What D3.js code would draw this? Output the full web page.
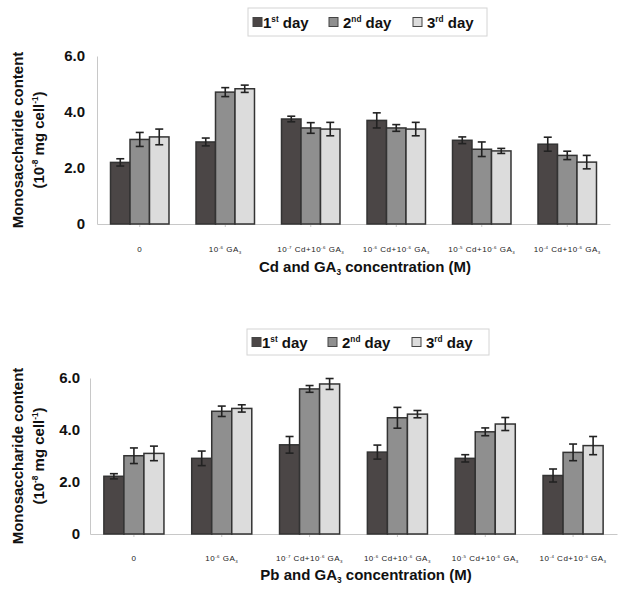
<!DOCTYPE html>
<html lang="en">
<head>
<meta charset="utf-8">
<title>Monosaccharide content</title>
<script src="https://cdnjs.cloudflare.com/ajax/libs/d3/7.8.5/d3.min.js"></script>
<style>
  body { margin: 0; background: #fff; }
  svg { font-family: "Liberation Sans", Arial, sans-serif; }
</style>
</head>
<body>
<div id="chart"></div>
<script>
// categories and legend entries (^{..} = superscript, _{..} = subscript)
const categories = ["0", "10^{-6} GA_{3}", "10^{-7} Cd+10^{-6} GA_{3}", "10^{-6} Cd+10^{-6} GA_{3}", "10^{-5} Cd+10^{-6} GA_{3}", "10^{-4} Cd+10^{-6} GA_{3}"];
const seriesNames = ["1^{st} day", "2^{nd} day", "3^{rd} day"];
const seriesColors = ["#4b4646", "#8f8f8f", "#dcdcdc"];

// Cd panel
const cdDay1 = [2.20, 2.93, 3.75, 3.70, 2.99, 2.85];
const cdDay2 = [3.02, 4.71, 3.43, 3.43, 2.67, 2.45];
const cdDay3 = [3.11, 4.83, 3.39, 3.39, 2.61, 2.21];
const cdErr1 = [0.13, 0.14, 0.10, 0.27, 0.12, 0.25];
const cdErr2 = [0.25, 0.16, 0.19, 0.12, 0.26, 0.15];
const cdErr3 = [0.28, 0.13, 0.24, 0.24, 0.09, 0.24];

// Pb panel
const pbDay1 = [2.22, 2.91, 3.43, 3.15, 2.91, 2.25];
const pbDay2 = [3.01, 4.72, 5.58, 4.47, 3.93, 3.14];
const pbDay3 = [3.10, 4.83, 5.77, 4.61, 4.23, 3.40];
const pbErr1 = [0.10, 0.28, 0.32, 0.27, 0.14, 0.25];
const pbErr2 = [0.30, 0.20, 0.13, 0.40, 0.15, 0.32];
const pbErr3 = [0.28, 0.14, 0.21, 0.14, 0.25, 0.35];

const yTicks = [0, 2, 4, 6];
const yTickLabels = ["0", "2.0", "4.0", "6.0"];
const yTitle1 = "Monosaccharide content";
const yTitle2 = "(10^{-8} mg cell^{-1})";
const cdTitle = "Cd and GA_{3} concentration (M)";
const pbTitle = "Pb and GA_{3} concentration (M)";

const width = 618, height = 594;

const svg = d3.select("#chart").append("svg")
    .attr("width", width)
    .attr("height", height);

// write a label with ^{} and _{} parts as tspans
function richText(sel, str, size) {
    const parts = str.split(/(\^\{[^}]*\}|_\{[^}]*\})/).filter(s => s.length);
    let shift = 0;
    parts.forEach(p => {
        let target = 0, fs = size, txt = p;
        if (p[0] === "^") { target = -size * 0.4; fs = size * 0.55; txt = p.slice(2, -1); }
        else if (p[0] === "_") { target = size * 0.2; fs = size * 0.55; txt = p.slice(2, -1); }
        sel.append("tspan")
            .attr("font-size", fs)
            .attr("dy", target - shift)
            .text(txt);
        shift = target;
    });
}

function drawPanel(p) {
    const g = svg.append("g");
    const x0 = d3.scaleBand().domain(categories).range([p.left, p.right]).padding(0);
    const x1 = d3.scaleBand().domain([0, 1, 2])
        .range([x0.bandwidth() * 0.158, x0.bandwidth() * 0.842]);
    const y = d3.scaleLinear().domain([0, 6]).range([p.bottom, p.top]);

    // axes
    const yAxis = g.append("g")
        .attr("transform", "translate(" + p.left + ",0)")
        .call(d3.axisLeft(y).tickValues(yTicks).tickSize(0).tickPadding(p.tickPad)
            .tickFormat((d, i) => yTickLabels[i]));
    yAxis.select(".domain").attr("stroke", "#c8c8c8");
    yAxis.selectAll("text").attr("font-size", 15).attr("font-weight", "bold").attr("fill", "#111");

    const xAxis = g.append("g")
        .attr("transform", "translate(0," + p.bottom + ")")
        .call(d3.axisBottom(x0).tickSize(3).tickSizeOuter(0).tickFormat(""));
    xAxis.select(".domain").attr("stroke", "#c8c8c8");
    xAxis.selectAll(".tick line").attr("stroke", "#c8c8c8");

    // bars
    const groups = g.append("g").selectAll("g")
        .data(categories.map((c, i) => ({ c: c, i: i })))
        .join("g")
        .attr("transform", d => "translate(" + x0(d.c) + ",0)");

    groups.selectAll("rect")
        .data(d => p.values.map((s, k) => ({ k: k, v: s[d.i], e: p.errors[k][d.i] })))
        .join("rect")
        .attr("x", d => x1(d.k))
        .attr("y", d => y(d.v))
        .attr("width", x1.bandwidth())
        .attr("height", d => y(0) - y(d.v))
        .attr("fill", d => seriesColors[d.k])
        .attr("stroke", "#333")
        .attr("stroke-width", 1.5);

    // error bars
    const eb = groups.selectAll("g.err")
        .data(d => p.values.map((s, k) => ({ k: k, v: s[d.i], e: p.errors[k][d.i] })))
        .join("g")
        .attr("class", "err")
        .attr("stroke", "#222")
        .attr("stroke-width", 1.6);
    eb.append("line")
        .attr("x1", d => x1(d.k) + x1.bandwidth() / 2)
        .attr("x2", d => x1(d.k) + x1.bandwidth() / 2)
        .attr("y1", d => y(d.v + d.e))
        .attr("y2", d => y(d.v - d.e));
    [1, -1].forEach(sgn => {
        eb.append("line")
            .attr("x1", d => x1(d.k) + x1.bandwidth() / 2 - 4)
            .attr("x2", d => x1(d.k) + x1.bandwidth() / 2 + 4)
            .attr("y1", d => y(d.v + sgn * d.e))
            .attr("y2", d => y(d.v + sgn * d.e));
    });

    // category labels
    g.append("g").selectAll("text")
        .data(categories)
        .join("text")
        .attr("x", d => x0(d) + x0.bandwidth() / 2)
        .attr("y", p.catY)
        .attr("text-anchor", "middle")
        .attr("letter-spacing", 0.5)
        .attr("fill", "#222")
        .each(function(d) { richText(d3.select(this), d, 8); });

    // x title
    g.append("text")
        .attr("x", p.titleX)
        .attr("y", p.titleY)
        .attr("text-anchor", "middle")
        .attr("font-weight", "bold")
        .attr("fill", "#111")
        .each(function() { richText(d3.select(this), p.title, 15); });

    // y title
    const cy = (p.top + p.bottom) / 2;
    [[yTitle1, p.yl1], [yTitle2, p.yl2]].forEach(t => {
        g.append("text")
            .attr("transform", "translate(" + t[1] + "," + cy + ") rotate(-90)")
            .attr("text-anchor", "middle")
            .attr("font-weight", "bold")
            .attr("fill", "#111")
            .each(function() { richText(d3.select(this), t[0], 15); });
    });

    // legend
    const lg = g.append("g");
    lg.append("rect")
        .attr("x", p.leg.x).attr("y", p.leg.y)
        .attr("width", p.leg.w).attr("height", p.leg.h)
        .attr("fill", "#fff").attr("stroke", "#d4d4d4");
    const legX = [5, 81, 165];
    seriesNames.forEach((s, k) => {
        lg.append("rect")
            .attr("x", p.leg.x + legX[k]).attr("y", p.leg.y + p.leg.h / 2 - 4.5)
            .attr("width", 9).attr("height", 9)
            .attr("fill", seriesColors[k]).attr("stroke", "#444").attr("stroke-width", 1);
        lg.append("text")
            .attr("x", p.leg.x + legX[k] + (k === 0 ? 10 : 14))
            .attr("y", p.leg.y + p.leg.h / 2 + 5.5)
            .attr("font-weight", "bold")
            .attr("fill", "#111")
            .each(function() { richText(d3.select(this), s, 15); });
    });
}

drawPanel({
    left: 97, right: 610, top: 56, bottom: 224, tickPad: 12,
    values: [cdDay1, cdDay2, cdDay3], errors: [cdErr1, cdErr2, cdErr3],
    catY: 252,
    title: cdTitle, titleX: 365, titleY: 272,
    yl1: 23, yl2: 44,
    leg: { x: 248, y: 8, w: 239, h: 28 }
});

drawPanel({
    left: 90, right: 617, top: 378, bottom: 534, tickPad: 10,
    values: [pbDay1, pbDay2, pbDay3], errors: [pbErr1, pbErr2, pbErr3],
    catY: 561,
    title: pbTitle, titleX: 366, titleY: 580,
    yl1: 23, yl2: 44,
    leg: { x: 247, y: 329, w: 242, h: 26 }
});
</script>
</body>
</html>
